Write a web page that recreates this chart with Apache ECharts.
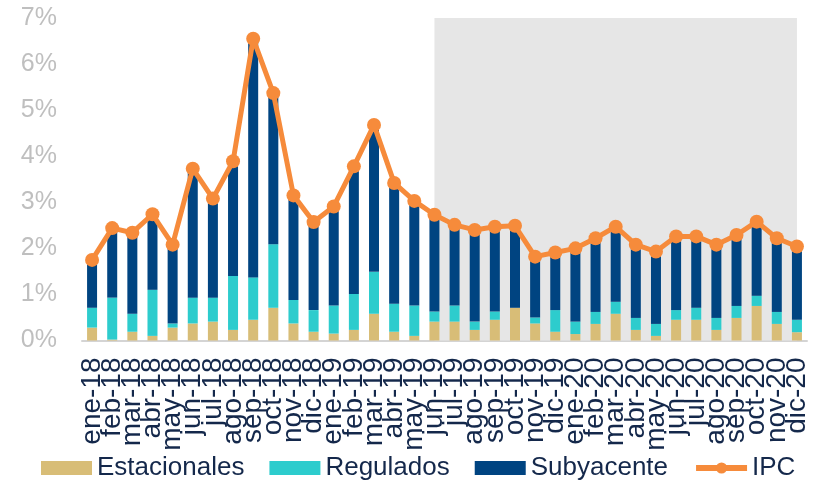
<!DOCTYPE html>
<html>
<head>
<meta charset="utf-8">
<title>IPC</title>
<script src="https://cdn.jsdelivr.net/npm/echarts@6/dist/echarts.min.js"></script>
<style>
  html, body { margin: 0; padding: 0; background: #fff; }
  #chart { width: 815px; height: 484px; }
</style>
</head>
<body>
<div id="chart"></div>
<script>
// categorias (meses)
var meses = [
  "ene-18", "feb-18", "mar-18", "abr-18", "may-18", "jun-18", "jul-18", "ago-18", "sep-18", "oct-18", "nov-18", "dic-18",
  "ene-19", "feb-19", "mar-19", "abr-19", "may-19", "jun-19", "jul-19", "ago-19", "sep-19", "oct-19", "nov-19", "dic-19",
  "ene-20", "feb-20", "mar-20", "abr-20", "may-20", "jun-20", "jul-20", "ago-20", "sep-20", "oct-20", "nov-20", "dic-20"
];

// contribuciones (%)
var estacionales = [
  0.28, 0.02, 0.19, 0.10, 0.28, 0.37, 0.41, 0.23, 0.45, 0.71, 0.37, 0.19,
  0.15, 0.23, 0.58, 0.19, 0.10, 0.41, 0.41, 0.23, 0.45, 0.71, 0.37, 0.19,
  0.14, 0.36, 0.58, 0.23, 0.10, 0.45, 0.45, 0.23, 0.49, 0.75, 0.36, 0.18
];
var regulados = [
  0.43, 0.91, 0.39, 1.00, 0.09, 0.56, 0.52, 1.17, 0.92, 1.38, 0.51, 0.47,
  0.61, 0.78, 0.91, 0.61, 0.66, 0.22, 0.35, 0.18, 0.18, 0.00, 0.13, 0.47,
  0.27, 0.26, 0.26, 0.26, 0.26, 0.21, 0.26, 0.26, 0.26, 0.22, 0.26, 0.27
];
var subyacente = [
  1.04, 1.51, 1.76, 1.64, 1.71, 2.80, 2.15, 2.49, 5.18, 3.28, 2.27, 1.91,
  2.15, 2.77, 3.19, 2.62, 2.27, 2.10, 1.75, 1.99, 1.84, 1.78, 1.32, 1.25,
  1.59, 1.60, 1.63, 1.59, 1.57, 1.60, 1.55, 1.59, 1.54, 1.61, 1.60, 1.59
];
var ipc = [
  1.75, 2.44, 2.34, 2.74, 2.08, 3.73, 3.08, 3.89, 6.55, 5.37, 3.15, 2.57,
  2.91, 3.78, 4.68, 3.42, 3.03, 2.73, 2.51, 2.40, 2.47, 2.49, 1.82, 1.91,
  2.00, 2.22, 2.47, 2.08, 1.93, 2.26, 2.26, 2.08, 2.29, 2.58, 2.22, 2.04
];
// periodo sombreado (pronostico)
var pronostico = ["jun-19", "dic-20"];

var textoColor = "#14284b";
var naranja = "#f68b3b";

var chart = echarts.init(document.getElementById("chart"), null, { renderer: "canvas" });

var option = {
  animation: false,
  textStyle: { fontFamily: "Liberation Sans, Arial, sans-serif" },
  grid: {
    left: 82,
    right: 8,
    top: 18,
    bottom: 143.5,
    containLabel: false
  },
  legend: {
    data: [
      { name: "Estacionales", icon: "rect" },
      { name: "Regulados", icon: "rect" },
      { name: "Subyacente", icon: "rect" },
      { name: "IPC", lineStyle: { width: 6 } }
    ],
    left: 41,
    top: 455,
    padding: 0,
    itemWidth: 51,
    itemHeight: 14,
    itemGap: 25,
    textStyle: {
      color: textoColor,
      fontSize: 26,
      fontFamily: "Liberation Sans, Arial, sans-serif"
    }
  },
  xAxis: {
    type: "category",
    data: meses,
    axisTick: { show: false },
    axisLine: { lineStyle: { color: "#d4d4d4", width: 2 } },
    axisLabel: {
      interval: 0,
      rotate: 90,
      margin: 17,
      color: textoColor,
      fontSize: 28
    }
  },
  yAxis: {
    type: "value",
    min: 0,
    max: 7,
    interval: 1,
    axisLine: { show: false },
    axisTick: { show: false },
    splitLine: { show: false },
    axisLabel: {
      formatter: "{value}%",
      color: "#bfbfbf",
      fontSize: 25,
      margin: 25
    }
  },
  series: [
    {
      // solo para el area sombreada
      name: "fondo",
      type: "line",
      data: [],
      z: 1,
      silent: true,
      markArea: {
        silent: true,
        itemStyle: { color: "#e6e6e6" },
        data: [[{ xAxis: pronostico[0], yAxis: 0 }, { xAxis: pronostico[1], yAxis: 7 }]]
      }
    },
    {
      name: "Estacionales",
      type: "bar",
      stack: "total",
      barWidth: 10,
      z: 2,
      itemStyle: { color: "#d8bd77" },
      data: estacionales
    },
    {
      name: "Regulados",
      type: "bar",
      stack: "total",
      barWidth: 10,
      z: 2,
      itemStyle: { color: "#2dcccd" },
      data: regulados
    },
    {
      name: "Subyacente",
      type: "bar",
      stack: "total",
      barWidth: 10,
      z: 2,
      itemStyle: { color: "#004481" },
      data: subyacente
    },
    {
      name: "IPC",
      type: "line",
      z: 3,
      symbol: "circle",
      symbolSize: 14,
      lineStyle: { color: naranja, width: 5 },
      itemStyle: { color: naranja },
      data: ipc
    }
  ]
};

chart.setOption(option);
</script>
</body>
</html>
